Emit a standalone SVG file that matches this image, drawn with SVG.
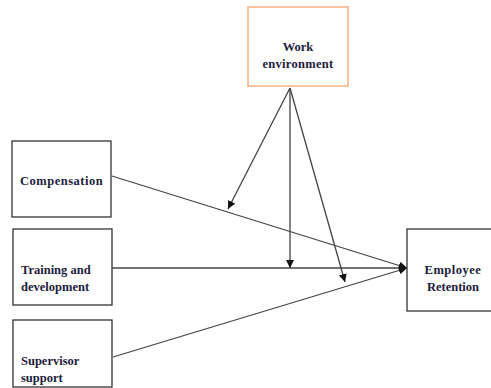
<svg xmlns="http://www.w3.org/2000/svg" width="491" height="388" viewBox="0 0 491 388">
<defs>
<style>
.box{fill:#fff;stroke:#333;stroke-width:1.3}
.obox{fill:#fff;stroke:#f5b184;stroke-width:1.5}
.t{font-family:"Liberation Serif",serif;font-weight:bold;font-size:12.5px;fill:#1c1c3c}
.ln{stroke:#444;stroke-width:1.3;fill:none}
</style>
<marker id="ah" viewBox="0 0 10 10" refX="10" refY="5" markerWidth="8" markerHeight="8" markerUnits="userSpaceOnUse" orient="auto"><path d="M0,0 L10,5 L0,10 z" fill="#111"/></marker>
</defs>
<rect width="491" height="388" fill="#fff"/>
<g id="work-environment">
<rect class="obox" x="248" y="7" width="100" height="79"/>
<text class="t" x="298" y="51" text-anchor="middle">Work</text>
<text class="t" x="298" y="68" text-anchor="middle" letter-spacing="0.3">environment</text>
</g>
<g id="compensation">
<rect class="box" x="12" y="141" width="99" height="76"/>
<text class="t" x="20" y="185" letter-spacing="0.5">Compensation</text>
</g>
<g id="training">
<rect class="box" x="13" y="229" width="99" height="76"/>
<text class="t" x="21" y="274">Training and</text>
<text class="t" x="21" y="291">development</text>
</g>
<g id="supervisor">
<rect class="box" x="13" y="320" width="99" height="67"/>
<text class="t" x="21" y="365">Supervisor</text>
<text class="t" x="21" y="382">support</text>
</g>
<g id="employee-retention">
<rect class="box" x="407" y="229" width="90" height="82"/>
<text class="t" x="453" y="274" text-anchor="middle" letter-spacing="0.5">Employee</text>
<text class="t" x="453" y="291" text-anchor="middle">Retention</text>
</g>
<g id="connectors">
<line class="ln" x1="112" y1="176" x2="407" y2="268" marker-end="url(#ah)"/>
<line class="ln" x1="112" y1="268" x2="407" y2="268" marker-end="url(#ah)"/>
<line class="ln" x1="113" y1="357" x2="407" y2="268" marker-end="url(#ah)"/>
<line class="ln" x1="290" y1="88" x2="228" y2="209" marker-end="url(#ah)"/>
<line class="ln" x1="290" y1="88" x2="290" y2="268" marker-end="url(#ah)"/>
<line class="ln" x1="290" y1="88" x2="345" y2="282" marker-end="url(#ah)"/>
</g>
</svg>
